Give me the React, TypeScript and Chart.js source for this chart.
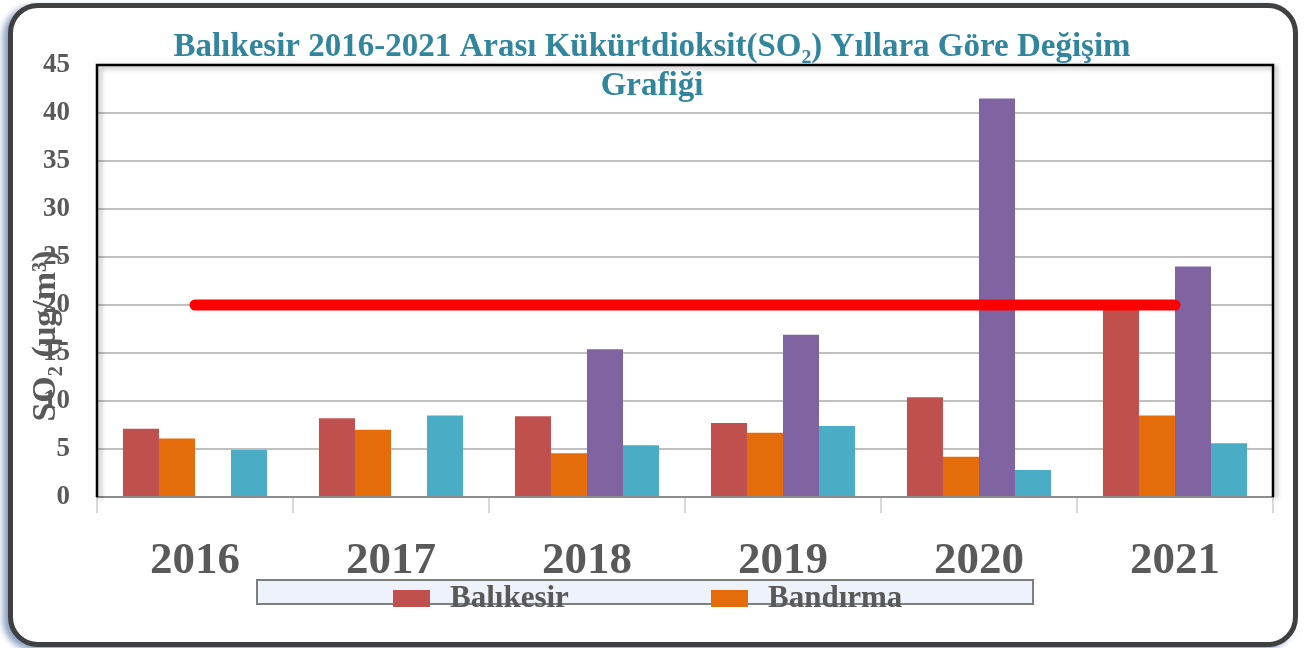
import React, { useEffect, useRef } from "react";
import { Chart, registerables } from "chart.js";

Chart.register(...registerables);

const years = ["2016", "2017", "2018", "2019", "2020", "2021"];
const balikesir = [7.1, 8.2, 8.4, 7.7, 10.4, 19.6];
const bandirma = [6.1, 7.0, 4.55, 6.7, 4.2, 8.5];
const station3 = [null, null, 15.4, 16.9, 41.5, 24.0];
const station4 = [4.9, 8.5, 5.4, 7.4, 2.8, 5.6];
const limitValue = [20, 20, 20, 20, 20, 20];

const seriesNames = ["Balıkesir", "Bandırma", "İstasyon 3", "İstasyon 4", "Sınır Değer"];
const yTicks = [0, 5, 10, 15, 20, 25, 30, 35, 40, 45];
const titleLines = ["Balıkesir 2016-2021 Arası Kükürtdioksit(SO₂) Yıllara Göre Değişim", "Grafiği"];
const yTitle = "SO₂ (µg/m³)";

const GREY = "#595959";
const FONT = "'Liberation Serif', 'DejaVu Serif', serif";

const decorPlugin = {
  id: "decor",
  afterDraw(chart: any) {
    const { ctx, chartArea } = chart;
    const { left, right, top, bottom } = chartArea;
    ctx.save();
    ctx.shadowColor = "rgba(0,0,0,0.35)";
    ctx.shadowBlur = 5;
    ctx.shadowOffsetX = 3;
    ctx.shadowOffsetY = 2;
    ctx.strokeStyle = "#000";
    ctx.lineWidth = 2.5;
    ctx.beginPath();
    ctx.moveTo(left, bottom);
    ctx.lineTo(left, top);
    ctx.lineTo(right, top);
    ctx.lineTo(right, bottom);
    ctx.stroke();
    ctx.restore();

    // title
    ctx.save();
    ctx.fillStyle = "#31859c";
    ctx.font = `bold 33px ${FONT}`;
    ctx.textAlign = "center";
    ctx.textBaseline = "alphabetic";
    const cx = 652;
    ctx.fillText(titleLines[0], cx, 56);
    ctx.fillText(titleLines[1], cx, 95);
    ctx.restore();

    // y axis title
    ctx.save();
    ctx.translate(46, 336);
    ctx.rotate(-Math.PI / 2);
    ctx.fillStyle = GREY;
    ctx.font = `bold 34px ${FONT}`;
    ctx.textAlign = "center";
    ctx.textBaseline = "middle";
    ctx.fillText(yTitle, 0, 0);
    ctx.restore();

    // legend
    ctx.save();
    ctx.fillStyle = "#eef2fa";
    ctx.fillRect(257, 580, 776, 24);
    ctx.strokeStyle = "#7f7f7f";
    ctx.lineWidth = 2;
    ctx.strokeRect(257, 580, 776, 24);
    const items = [
      { ds: chart.data.datasets[1], x: 393 },
      { ds: chart.data.datasets[2], x: 711 },
    ];
    ctx.font = `bold 31px ${FONT}`;
    ctx.textBaseline = "alphabetic";
    ctx.textAlign = "left";
    for (const it of items) {
      ctx.fillStyle = it.ds.backgroundColor;
      ctx.fillRect(it.x, 590, 37, 17);
      ctx.fillStyle = GREY;
      ctx.fillText(it.ds.label, it.x + 57, 607);
    }
    ctx.restore();
  },
};

export default function App() {
  const ref = useRef<HTMLCanvasElement | null>(null);

  useEffect(() => {
    if (!ref.current) return;
    const chart = new Chart(ref.current, {
      type: "bar",
      data: {
        labels: years,
        datasets: [
          { type: "line", label: seriesNames[4], data: limitValue, borderColor: "#ff0000", borderWidth: 11, borderCapStyle: "round", pointRadius: 0, order: 0, fill: false } as any,
          { label: seriesNames[0], data: balikesir, backgroundColor: "#c0504d", order: 1 },
          { label: seriesNames[1], data: bandirma, backgroundColor: "#e46c0a", order: 1 },
          { label: seriesNames[2], data: station3 as any, backgroundColor: "#8064a2", order: 1 },
          { label: seriesNames[3], data: station4, backgroundColor: "#4bacc6", order: 1 },
        ],
      },
      options: {
        animation: false,
        responsive: false,
        maintainAspectRatio: false,
        layout: { padding: { top: 65, right: 33, left: 0, bottom: 0 } },
        datasets: { bar: { categoryPercentage: 0.735, barPercentage: 1 } } as any,
        plugins: {
          legend: { display: false },
          title: { display: false },
          tooltip: { enabled: false },
        },
        scales: {
          x: {
            afterFit: (s: any) => { s.height = 151; },
            grid: { display: true, drawOnChartArea: false, drawTicks: true, tickLength: 16, color: "#d9d9d9", lineWidth: 2, offset: true },
            border: { display: true, color: "#8c8c8c", width: 2 },
            ticks: { color: GREY, padding: 21, font: { family: FONT, size: 45, weight: "bold" } },
          },
          y: {
            min: 0,
            max: 45,
            afterFit: (s: any) => { s.width = 97; },
            afterBuildTicks: (s: any) => { s.ticks = yTicks.map((v) => ({ value: v })); },
            grid: { color: "#c0c0c0", lineWidth: 2, drawTicks: false },
            border: { display: false },
            ticks: { color: GREY, padding: 27, font: { family: FONT, size: 27, weight: "bold" } },
          },
        },
      },
      plugins: [decorPlugin],
    });
    return () => chart.destroy();
  }, []);

  return (
    <div style={{ position: "absolute", left: 0, top: 0, width: 1306, height: 648, background: "#fff", overflow: "hidden" }}>
      <div
        style={{
          position: "absolute",
          left: 8,
          top: 3,
          width: 1280,
          height: 634,
          border: "5px solid #404040",
          borderRadius: 30,
          boxShadow: "-5px 3px 6px rgba(90,120,170,0.7)",
          background: "#fff",
        }}
      />
      <canvas ref={ref} width={1306} height={648} style={{ position: "absolute", left: 0, top: 0, width: 1306, height: 648 }} />
    </div>
  );
}
